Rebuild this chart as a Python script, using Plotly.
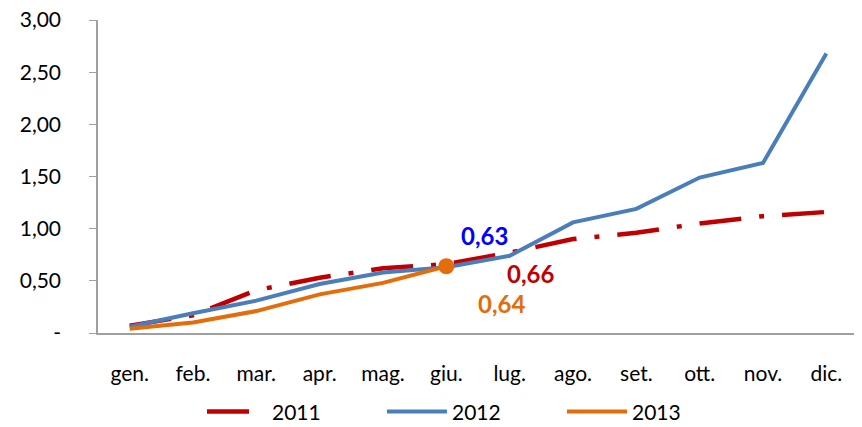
import plotly.graph_objects as go

months = ["gen.", "feb.", "mar.", "apr.", "mag.", "giu.", "lug.", "ago.", "set.", "ott.", "nov.", "dic."]
y2011 = [0.07, 0.17, 0.41, 0.53, 0.62, 0.66, 0.77, 0.90, 0.96, 1.05, 1.12, 1.16]
y2012 = [0.06, 0.19, 0.31, 0.47, 0.58, 0.63, 0.74, 1.06, 1.19, 1.49, 1.63, 2.68]
y2013 = [0.04, 0.10, 0.21, 0.37, 0.48, 0.64]
yticks = [0, 0.5, 1.0, 1.5, 2.0, 2.5, 3.0]
ytick_labels = ["-", "0,50", "1,00", "1,50", "2,00", "2,50", "3,00"]

RED = "#C00000"
BLUE = "#4A7EBB"
ORANGE = "#E46C0A"
FONT = "Lato"

fig = go.Figure()
fig.add_trace(go.Scatter(x=months, y=y2011, mode="lines", name="2011",
                         line=dict(color=RED, width=4.5, dash="42px,18px,5px,18px")))
fig.add_trace(go.Scatter(x=months, y=y2012, mode="lines", name="2012",
                         line=dict(color=BLUE, width=4)))
fig.add_trace(go.Scatter(x=months[:len(y2013)], y=y2013, mode="lines", name="2013",
                         line=dict(color=ORANGE, width=4)))
fig.add_trace(go.Scatter(x=[months[len(y2013) - 1]], y=[y2013[-1]], mode="markers",
                         marker=dict(color=ORANGE, size=16), showlegend=False))

gi = months[5]
fig.add_annotation(x=gi, y=y2012[5], text="<b>0,63</b>", showarrow=False,
                   xshift=38, yshift=32, font=dict(color="#0000FF", size=24, family=FONT))
fig.add_annotation(x=gi, y=y2011[5], text="<b>0,66</b>", showarrow=False,
                   xshift=84, yshift=-9, font=dict(color=RED, size=24, family=FONT))
fig.add_annotation(x=gi, y=y2013[5], text="<b>0,64</b>", showarrow=False,
                   xshift=55, yshift=-37, font=dict(color=ORANGE, size=24, family=FONT))

fig.update_layout(
    width=854, height=419,
    margin=dict(l=90, r=4, t=12, b=94, autoexpand=False),
    paper_bgcolor="white", plot_bgcolor="white",
    font=dict(family=FONT, size=21, color="black"),
    showlegend=True,
    legend=dict(orientation="h", xref="container", yref="container",
                x=0.5433, xanchor="center", y=0.036, yanchor="middle",
                font=dict(size=21), entrywidth=105, entrywidthmode="pixels",
                itemwidth=60),
)
fig.update_xaxes(type="category", range=[-0.5, 11.5], showline=True, linecolor="#A0A0A0",
                 linewidth=1.5, showgrid=False, ticks="", ticklabelstandoff=21,
                 zeroline=False, automargin=False, ticklabeloverflow="allow")
fig.update_yaxes(range=[0, 3], tickvals=yticks, ticktext=ytick_labels, showline=True,
                 linecolor="#A0A0A0", linewidth=1.5, showgrid=False, ticks="outside",
                 ticklen=7, tickcolor="#A0A0A0", ticklabelstandoff=24, zeroline=False,
                 automargin=False, ticklabeloverflow="allow")

fig.write_html("out.html")
